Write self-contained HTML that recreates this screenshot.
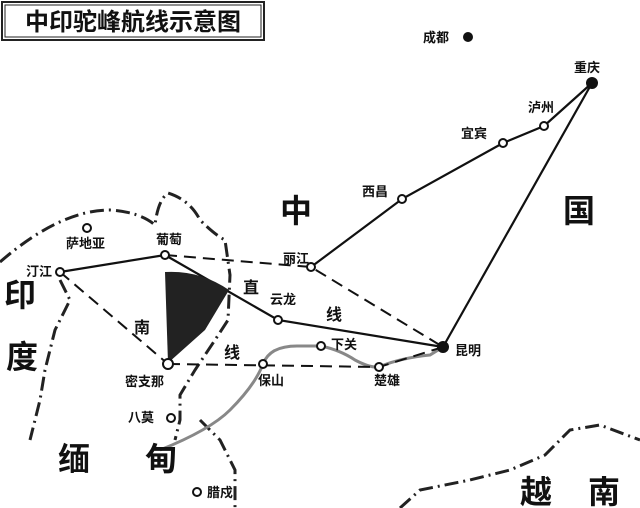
<!DOCTYPE html>
<html><head><meta charset="utf-8"><style>
html,body{margin:0;padding:0;background:#fff;}
svg{display:block}
text{font-family:"Liberation Sans","Noto Sans CJK SC",sans-serif;fill:#111;font-weight:bold}
</style></head><body>
<svg width="640" height="508" viewBox="0 0 640 508" xmlns="http://www.w3.org/2000/svg">
<rect width="640" height="508" fill="#fff"/>
<rect x="2" y="2" width="262" height="38" fill="#fff" stroke="#222" stroke-width="2"/>
<rect x="5" y="5" width="256" height="32" fill="none" stroke="#222" stroke-width="1"/>
<text x="133" y="30" font-size="24" text-anchor="middle">中印驼峰航线示意图</text>

<g fill="none" stroke="#222" stroke-width="3" stroke-dasharray="14 5 2 5">
<path d="M0,262 Q60,210 110,210 Q140,212 155,225 Q158,200 168,193 Q190,200 200,220 Q215,235 225,240 L230,275 L228,320 L215,340 L195,370 L180,395 L180,420 L175,440"/>
<path d="M60,280 L70,300 L55,330 L45,370 L40,400 L30,440"/>
<path d="M200,420 L220,440 L235,470 L235,508"/>
<path d="M400,508 L420,490 L470,480 L510,470 L545,455 L570,430 L600,425 L640,440"/>
</g>
<path d="M160,450 Q210,430 230,410 Q255,385 263,364 Q270,345 300,346 L321,346 Q340,350 355,360 Q370,368 379,367 Q400,358 430,355 L443,347" fill="none" stroke="#888" stroke-width="3"/>

<g fill="none" stroke="#111" stroke-width="2.2">
<path d="M592,83 L544,126 L503,143 L402,199 L311,267"/>
<path d="M592,83 L443,347"/>
<path d="M60,272 L165,255"/>
<path d="M165,255 L278,320 L443,347"/>
</g>
<g fill="none" stroke="#111" stroke-width="2" stroke-dasharray="12 7">
<path d="M165,255 L311,267 L443,347"/>
<path d="M60,272 L168,364"/>
<path d="M168,364 L379,367 L443,347"/>
</g>
<path d="M165,272 Q200,270 229,290 L205,330 L168,363 Z" fill="#222"/>

<g fill="#fff" stroke="#111" stroke-width="2">
<circle cx="544" cy="126" r="4"/><circle cx="503" cy="143" r="4"/><circle cx="402" cy="199" r="4"/>
<circle cx="311" cy="267" r="4"/><circle cx="165" cy="255" r="4"/><circle cx="87" cy="228" r="4"/>
<circle cx="60" cy="272" r="4"/><circle cx="278" cy="320" r="4"/><circle cx="321" cy="346" r="4"/>
<circle cx="263" cy="364" r="4"/><circle cx="379" cy="367" r="4"/><circle cx="168" cy="364" r="5"/>
<circle cx="171" cy="418" r="4"/><circle cx="197" cy="492" r="4"/>
</g>
<circle cx="468" cy="37" r="5" fill="#111"/>
<circle cx="592" cy="83" r="6" fill="#111"/>
<circle cx="443" cy="347" r="6" fill="#111"/>

<g font-size="13">
<text x="423" y="42">成都</text>
<text x="574" y="72">重庆</text>
<text x="528" y="112">泸州</text>
<text x="461" y="138">宜宾</text>
<text x="362" y="196">西昌</text>
<text x="283" y="263">丽江</text>
<text x="156" y="244">葡萄</text>
<text x="66" y="248">萨地亚</text>
<text x="26" y="276">汀江</text>
<text x="270" y="304">云龙</text>
<text x="331" y="349" font-weight="normal">下关</text>
<text x="455" y="355">昆明</text>
<text x="258" y="385">保山</text>
<text x="374" y="385">楚雄</text>
<text x="125" y="386">密支那</text>
<text x="128" y="422">八莫</text>
<text x="207" y="497">腊戍</text>
</g>
<g font-size="16">
<text x="243" y="293">直</text>
<text x="326" y="320">线</text>
<text x="134" y="333">南</text>
<text x="224" y="358">线</text>
</g>
<g font-size="32">
<text x="280" y="222">中</text>
<text x="563" y="222">国</text>
<text x="4" y="306">印</text>
<text x="6" y="368">度</text>
<text x="58" y="470">缅</text>
<text x="145" y="470">甸</text>
<text x="520" y="503">越</text>
<text x="588" y="503">南</text>
</g>
</svg>
</body></html>
